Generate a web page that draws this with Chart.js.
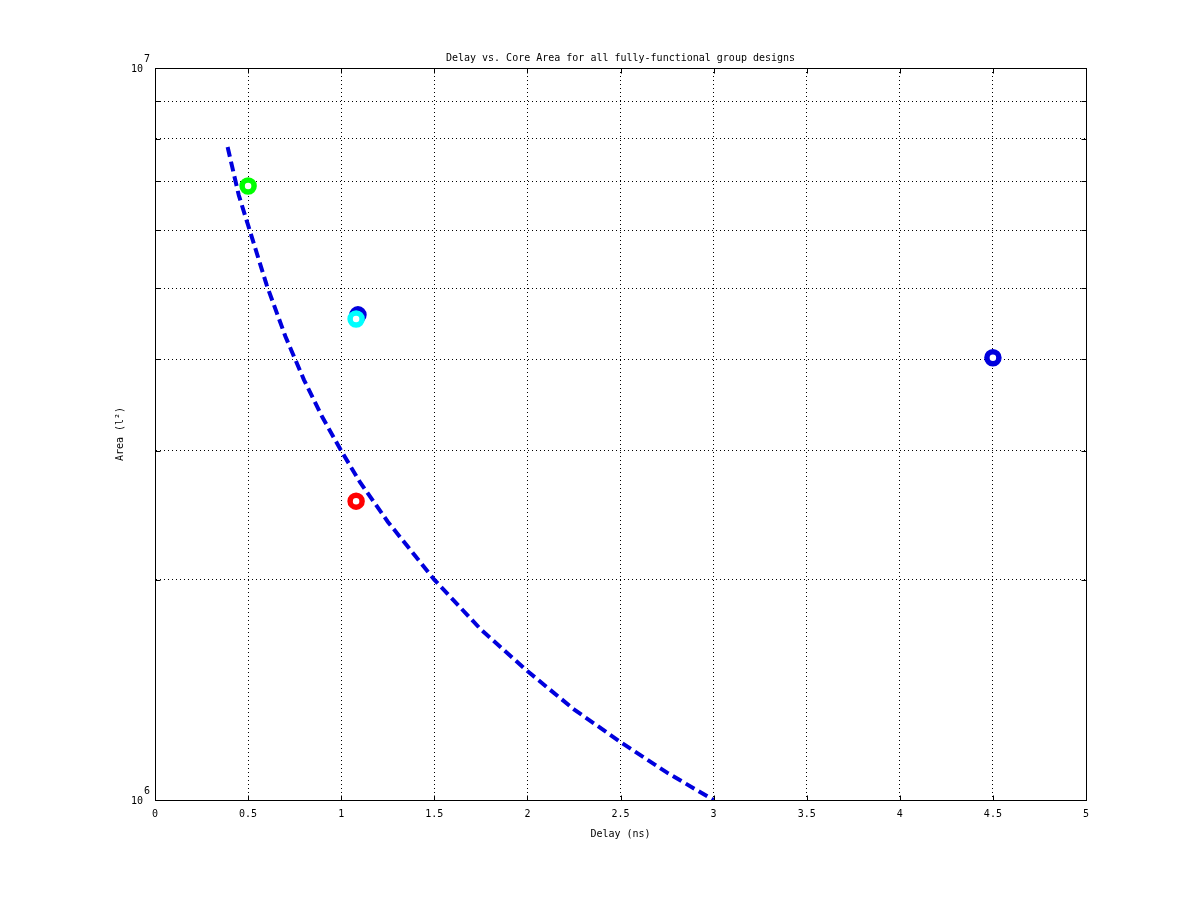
<!DOCTYPE html>
<html><head><meta charset="utf-8">
<script src="https://cdn.jsdelivr.net/npm/chart.js@4/dist/chart.umd.min.js"></script>
<style>html,body{margin:0;padding:0;background:#fff}canvas{display:block}</style>
</head><body>
<canvas id="c" width="1200" height="900"></canvas>
<script>
// ---- data ----
const chartTitle = 'Delay vs. Core Area for all fully-functional group designs';
const xAxisTitle = 'Delay (ns)';
const yAxisTitle = 'Area (l\u00B2)';
const xTickValues = [0, 0.5, 1, 1.5, 2, 2.5, 3, 3.5, 4, 4.5, 5];
const yTickValues = [1e6, 2e6, 3e6, 4e6, 5e6, 6e6, 7e6, 8e6, 9e6, 1e7];
const yMajorTicks = [1e6, 1e7];
const yMajorLabels = [['10', '6'], ['10', '7']];

const curveDelay = [0.39, 0.45, 0.5, 0.6, 0.7, 0.8, 0.9, 1.0, 1.1, 1.25, 1.5, 1.75, 2.0, 2.25, 2.5, 2.75, 3.0];
const curveArea  = [7.8e6, 6.7e6, 6.1e6, 5.05e6, 4.3e6, 3.75e6, 3.33e6, 3.0e6, 2.72e6, 2.4e6, 2.0e6, 1.71e6, 1.5e6, 1.33e6, 1.2e6, 1.09e6, 1.0e6];

const designDelay  = [0.5, 1.09, 1.08, 1.08, 4.5];
const designArea   = [6.9e6, 4.6e6, 4.54e6, 2.56e6, 4.02e6];
const designColors = ['#00ff00', '#0000dd', '#00ffff', '#ff0000', '#0000dd'];
const designOrder  = [1, 3, 2, 1, 1];

const FONT = '"DejaVu Sans Mono", monospace';

const datasets = designDelay.map((d, i) => ({
  type: 'scatter',
  data: [{x: d, y: designArea[i]}],
  pointRadius: 6,
  pointHoverRadius: 6,
  pointBorderWidth: 5.5,
  pointBorderColor: designColors[i],
  pointBackgroundColor: '#ffffff',
  showLine: false,
  order: designOrder[i]
}));
datasets.push({
  type: 'scatter',
  data: curveDelay.map((d, i) => ({x: d, y: curveArea[i]})),
  showLine: true,
  borderColor: '#0000dd',
  borderWidth: 4,
  borderDash: [10, 5],
  pointRadius: 0,
  tension: 0,
  fill: false,
  order: 4
});

const matlabBox = {
  id: 'matlabBox',
  afterDraw(chart) {
    const ctx = chart.ctx, a = chart.chartArea;
    const xs = chart.scales.x, ys = chart.scales.y;
    ctx.save();
    ctx.strokeStyle = '#000';
    ctx.lineWidth = 1;
    const L = Math.round(a.left) + 0.5, R = Math.round(a.right) + 0.5;
    const T = Math.round(a.top) + 0.5, B = Math.round(a.bottom) + 0.5;
    ctx.strokeRect(L, T, R - L, B - T);
    ctx.beginPath();
    xs.ticks.forEach(t => {
      const px = Math.round(xs.getPixelForValue(t.value)) + 0.5;
      ctx.moveTo(px, B); ctx.lineTo(px, B - 5);
      ctx.moveTo(px, T); ctx.lineTo(px, T + 5);
    });
    ys.ticks.forEach(t => {
      const py = Math.round(ys.getPixelForValue(t.value)) + 0.5;
      ctx.moveTo(L, py); ctx.lineTo(L + 5, py);
      ctx.moveTo(R, py); ctx.lineTo(R - 5, py);
    });
    ctx.stroke();
    ctx.fillStyle = '#000';
    ctx.font = '10px ' + FONT;
    // title centred over the plot box
    ctx.textAlign = 'center';
    ctx.textBaseline = 'middle';
    ctx.fillText(chartTitle, (a.left + a.right) / 2, a.top - 10);
    yMajorTicks.forEach((v, i) => {
      const py = ys.getPixelForValue(v);
      ctx.textAlign = 'right';
      ctx.textBaseline = 'middle';
      ctx.fillText(yMajorLabels[i][0], a.left - 12, py + 1);
      ctx.textAlign = 'left';
      ctx.fillText(yMajorLabels[i][1], a.left - 11, py - 9);
    });
    ctx.restore();
  }
};

new Chart(document.getElementById('c'), {
  type: 'scatter',
  data: { datasets },
  options: {
    responsive: false,
    animation: false,
    devicePixelRatio: 1,
    layout: { padding: { top: 68, right: 114, bottom: 0, left: 0 } },
    plugins: {
      legend: { display: false },
      tooltip: { enabled: false },
      title: { display: false }
    },
    scales: {
      x: {
        type: 'linear',
        min: 0, max: 5,
        afterBuildTicks(scale) { scale.ticks = xTickValues.map(v => ({value: v})); },
        afterFit(scale) { scale.height = 100; },
        ticks: {
          color: '#000',
          font: { family: FONT, size: 10 },
          padding: 8,
          maxRotation: 0,
          autoSkip: false,
          callback: v => String(v)
        },
        grid: { color: '#000', lineWidth: 1, drawTicks: false },
        border: { display: true, color: '#000', width: 1, dash: [1, 3] },
        title: {
          display: true, text: xAxisTitle, color: '#000',
          font: { family: FONT, size: 10 },
          padding: { top: 0, bottom: 60 }
        }
      },
      y: {
        type: 'logarithmic',
        min: 1e6, max: 1e7,
        afterBuildTicks(scale) { scale.ticks = yTickValues.map(v => ({value: v})); },
        afterFit(scale) { scale.width = 155; },
        ticks: { display: false },
        grid: { color: '#000', lineWidth: 1, drawTicks: false },
        border: { display: true, color: '#000', width: 1, dash: [1, 3] },
        title: {
          display: true, text: yAxisTitle, color: '#000',
          font: { family: FONT, size: 10 },
          padding: { top: 114, bottom: 0 }
        }
      }
    }
  },
  plugins: [matlabBox]
});
</script>
</body></html>
